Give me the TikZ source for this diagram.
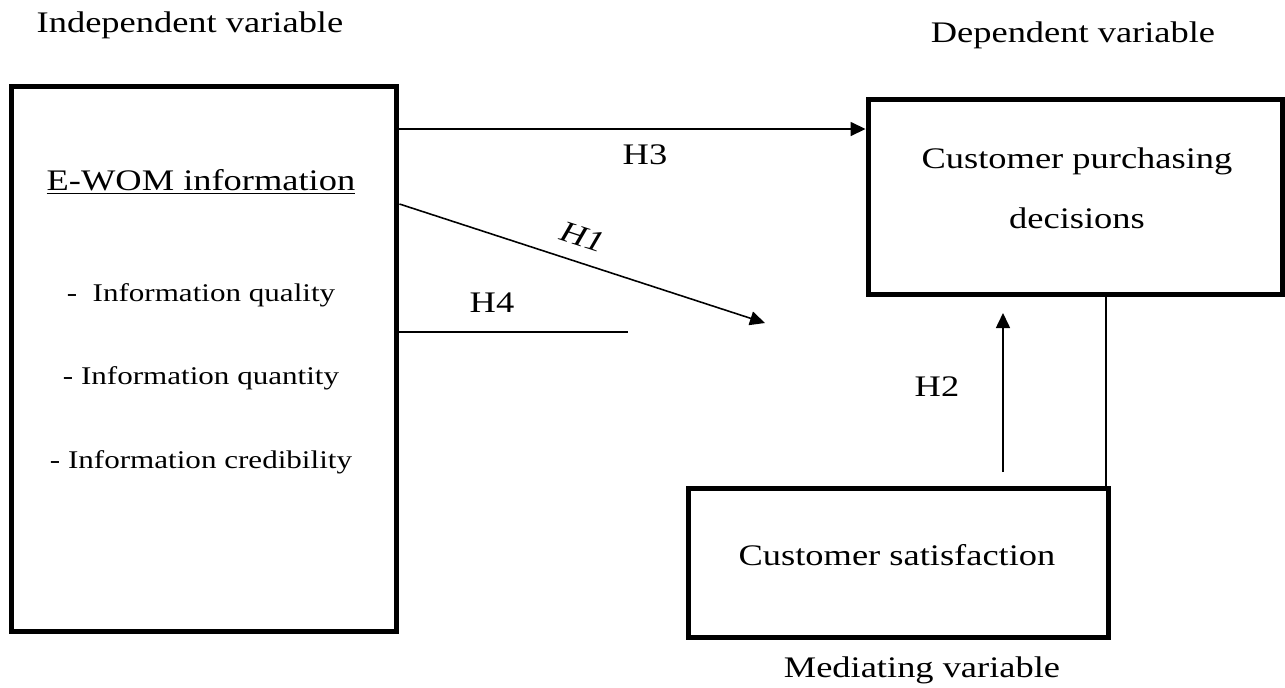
\documentclass[tikz,border=0pt]{standalone}
\usepackage{fontspec}
\setmainfont[FakeStretch=1.22]{Liberation Serif}
\usetikzlibrary{arrows.meta,positioning,calc}
\newcommand\bigtxt{\fontsize{17}{20}\selectfont}
\newcommand\smalltxt{\fontsize{14.5}{17}\selectfont}
\tikzset{
    every node/.style={font=\bigtxt},
    var box/.style={draw,line width=0.1cm,inner sep=0pt},
    path line/.style={line width=0.9pt},
    arrow line/.style={path line,-{Triangle[length=0.3cm,width=0.28cm]}}
}

\begin{document}
\begin{tikzpicture}[x=0.02cm,y=-0.02cm]
  \useasboundingbox (0,0) rectangle (1285,687);

  % variables
  \node[var box, minimum width=7.72cm, minimum height=10.92cm] (ewom) at (204,359) {};
  \node[var box, minimum width=8.3cm, minimum height=3.92cm] (cpd) at (1075.5,197) {};
  \node[var box, minimum width=8.42cm, minimum height=3cm] (sat) at (898.5,563) {};

  \node (iv) at (190,25) {Independent variable};
  \node (dv) at (1073,35) {Dependent variable};
  \node (mv) at (922,670) {Mediating variable};

  \node (ewomtitle) at (201,182) {\underline{E-WOM information}};
  \node[font=\smalltxt] (quality) at (201,295) {-\ \ Information quality};
  \node[font=\smalltxt] (quantity) at (201,378) {- Information quantity};
  \node[font=\smalltxt] (cred) at (201,462) {- Information credibility};

  \node[align=center, font=\fontsize{17}{34}\selectfont] (cpdtext) at (1077,188)
    {Customer purchasing\\decisions};
  \node (sattext) at (897,555) {Customer satisfaction};

  % paths
  \coordinate (h1end) at (765,323);
  \coordinate (h4end) at (628,332);
  \coordinate (h2start) at (1003,472);
  \coordinate (h2end) at (1003,313);

  \draw[arrow line] (ewom.east |- 0,129) -- (cpd.west |- 0,129);
  \node (h3) at (645,155) {H3};
  \draw[arrow line] (ewom.east |- 0,204) --
    node[sloped, above=5pt, pos=0.48, font=\bigtxt\itshape] (h1) {H1} (h1end);
  \draw[path line] (ewom.east |- 0,332) -- (h4end);
  \node (h4) at (492,303) {H4};
  \draw[arrow line] (h2start) -- (h2end);
  \node (h2) at (937,387) {H2};
  \draw[path line] (cpd.south -| 1106,0) -- (sat.north -| 1106,0);
\end{tikzpicture}
\end{document}
